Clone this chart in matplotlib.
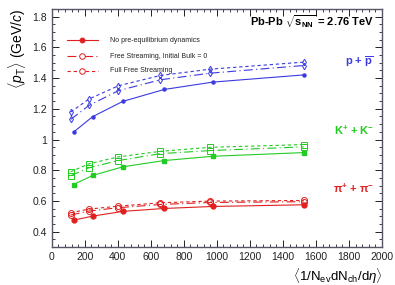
import matplotlib
matplotlib.use("Agg")
import matplotlib.pyplot as plt
from matplotlib.ticker import MultipleLocator

plt.rcParams['font.family'] = ['Liberation Sans', 'DejaVu Sans']
plt.rcParams['mathtext.fontset'] = 'custom'
plt.rcParams['mathtext.rm'] = 'Liberation Sans'
plt.rcParams['mathtext.it'] = 'Liberation Sans:italic'
plt.rcParams['mathtext.bf'] = 'Liberation Sans:bold'

# multiplicity values
x_nopre = [133, 248, 430, 681, 976, 1529]
x_fs = [115, 226, 404, 658, 959, 1526]

# <pT> values
proton_nopre = [1.049, 1.149, 1.248, 1.326, 1.374, 1.421]
proton_bulk0 = [1.131, 1.222, 1.318, 1.389, 1.432, 1.482]
proton_fullfs = [1.179, 1.264, 1.350, 1.417, 1.458, 1.504]

kaon_nopre = [0.707, 0.766, 0.822, 0.863, 0.891, 0.915]
kaon_bulk0 = [0.764, 0.816, 0.863, 0.908, 0.928, 0.952]
kaon_fullfs = [0.790, 0.842, 0.887, 0.923, 0.949, 0.967]

pion_nopre = [0.475, 0.501, 0.532, 0.551, 0.564, 0.575]
pion_bulk0 = [0.508, 0.534, 0.556, 0.577, 0.590, 0.595]
pion_fullfs = [0.523, 0.547, 0.566, 0.588, 0.599, 0.603]

legend_labels = ["No pre-equilibrium dynamics", "Free Streaming, Initial Bulk = 0", "Full Free Streaming"]

BLUE = '#3a3ae0'
GREEN = '#22cc22'
RED = '#e02020'

fig = plt.figure(figsize=(3.95, 2.85), dpi=100)
ax = fig.add_axes([51.7/395, 1-247/285, (382-51.7)/395, (247-9)/285])

ls_bulk = (0, (8, 3, 1, 3))
ls_fs = (0, (3, 2.5))

def draw(yn, yb, yf, color, mfill, mopen, ms_f, ms_o):
    ax.plot(x_nopre, yn, color=color, lw=0.8, marker=mfill, ms=ms_f, mfc=color, mec=color)
    ax.plot(x_fs, yb, color=color, lw=0.8, ls=ls_bulk, marker=mopen, ms=ms_o, mfc='none', mec=color, mew=0.7)
    ax.plot(x_fs, yf, color=color, lw=0.8, ls=ls_fs, marker=mopen, ms=ms_o, mfc='none', mec=color, mew=0.7)

draw(proton_nopre, proton_bulk0, proton_fullfs, BLUE, 'o', 'd', 2.2, 3.3)
draw(kaon_nopre, kaon_bulk0, kaon_fullfs, GREEN, 's', 's', 3.3, 4.3)
draw(pion_nopre, pion_bulk0, pion_fullfs, RED, 'o', 'o', 3.5, 4.3)

ax.set_xlim(0, 2000)
ax.set_ylim(0.3, 1.85)
ax.xaxis.set_major_locator(MultipleLocator(200))
ax.xaxis.set_minor_locator(MultipleLocator(40))
ax.yaxis.set_major_locator(MultipleLocator(0.2))
ax.yaxis.set_minor_locator(MultipleLocator(0.05))
ax.tick_params(which='both', direction='in', top=True, right=True, labelsize=7.5, colors='#222222')
ax.tick_params(which='major', length=5, width=0.7)
ax.tick_params(which='minor', length=2.5, width=0.6)
ax.set_yticks([0.4, 0.6, 0.8, 1.0, 1.2, 1.4, 1.6, 1.8])
ax.set_yticklabels(['0.4', '0.6', '0.8', '1', '1.2', '1.4', '1.6', '1.8'])
for s in ax.spines.values():
    s.set_linewidth(1.0)
    s.set_color('#555566')

ax.set_ylabel(r'$\langle \mathit{p}_{\mathrm{T}} \rangle$ (GeV/$\mathit{c}$)', fontsize=10, loc='top', labelpad=3)
fig.text(383/395, 1-276/285, r'$\langle$1/N$_{\mathrm{ev}}$dN$_{\mathrm{ch}}$/d$\eta\rangle$', fontsize=9.5,
         ha='right', va='center')

# legend drawn manually in axes coordinates
leg_y = [1.648, 1.543, 1.447]
styles = [('-', 'o', RED, 'full'), (ls_bulk, 'o', RED, 'open'), (ls_fs, 'o', RED, 'open')]
for yy, (ls, mk, c, fill), lab in zip(leg_y, styles, legend_labels):
    ax.plot([90, 280], [yy, yy], color=c, lw=0.8, ls=ls)
    ax.plot([185], [yy], marker=mk, color=c, ms=3.5 if fill == 'full' else 4,
            mfc=c if fill == 'full' else 'white', mec=c, mew=0.7)
    ax.text(355, yy, lab, fontsize=5, va='center', ha='left', color='#222222')

ax.text(0.975, 0.945, r'Pb-Pb $\sqrt{\mathbf{s}_{\mathbf{NN}}}$ = 2.76 TeV', transform=ax.transAxes,
        fontsize=8, fontweight='bold', ha='right', va='center')
ax.text(0.975, 0.78, r'p + $\overline{\mathrm{\mathbf{p}}}$', transform=ax.transAxes,
        fontsize=8, fontweight='bold', ha='right', va='center', color=BLUE)
ax.text(0.975, 0.49, r'K$^{\mathbf{+}}$ + K$^{\mathbf{-}}$', transform=ax.transAxes,
        fontsize=8, fontweight='bold', ha='right', va='center', color=GREEN)
ax.text(0.975, 0.245, r'$\mathbf{\pi}^{\mathbf{+}}$ + $\mathbf{\pi}^{\mathbf{-}}$', transform=ax.transAxes,
        fontsize=8, fontweight='bold', ha='right', va='center', color=RED)

fig.savefig('out.png', dpi=100)
